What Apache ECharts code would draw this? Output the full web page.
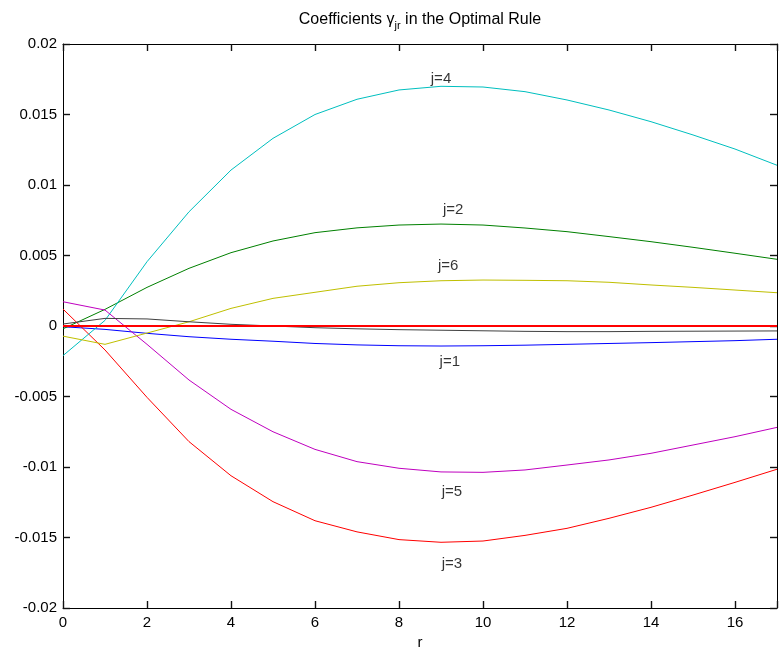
<!DOCTYPE html>
<html>
<head>
<meta charset="utf-8">
<script src="https://cdn.jsdelivr.net/npm/echarts@6/dist/echarts.min.js"></script>
<style>
html,body{margin:0;padding:0;background:#fff;}
#c{width:779px;height:650px;}
</style>
</head>
<body>
<div id="c"></div>
<script>
const r = [0,1,2,3,4,5,6,7,8,9,10,11,12,13,14,15,16,17];
const j1 = [-0.00005,-0.00024,-0.00052,-0.00076,-0.00094,-0.00108,-0.00124,-0.00134,-0.0014,-0.00142,-0.0014,-0.00136,-0.0013,-0.00124,-0.00118,-0.00111,-0.00104,-0.00094];
const j2 = [-0.0002,0.00118,0.00274,0.00409,0.0052,0.00603,0.00662,0.00696,0.00716,0.00723,0.00716,0.00695,0.00669,0.00634,0.00598,0.00558,0.00516,0.00473];
const j3 = [0.0012,-0.0017,-0.00506,-0.0082,-0.01062,-0.01246,-0.01381,-0.01460,-0.01515,-0.01534,-0.01525,-0.01485,-0.01435,-0.01364,-0.01286,-0.01199,-0.01109,-0.01016];
const j4 = [-0.0021,0.0004,0.00456,0.0081,0.01106,0.01331,0.01500,0.01608,0.01674,0.0170,0.01695,0.01662,0.01603,0.01532,0.01449,0.01355,0.01255,0.0114];
const j5 = [0.00172,0.00113,-0.0013,-0.00383,-0.00591,-0.0075,-0.00875,-0.00962,-0.01009,-0.01035,-0.01038,-0.01021,-0.00986,-0.0095,-0.00903,-0.00844,-0.00785,-0.00719];
const j6 = [-0.00072,-0.0013,-0.0005,0.0003,0.00125,0.00196,0.00239,0.00282,0.00307,0.00321,0.00326,0.00324,0.00321,0.0031,0.00291,0.00274,0.00255,0.00236];
const j7 = [0.00014,0.00054,0.0005,0.0003,0.00012,0.0,-0.00012,-0.0002,-0.00026,-0.0003,-0.00034,-0.00038,-0.0004,-0.0004,-0.00038,-0.00037,-0.00036,-0.00035];
const zeroLine = [0,0,0,0,0,0,0,0,0,0,0,0,0,0,0,0,0,0];
const labelText = ['j=4','j=2','j=6','j=1','j=5','j=3'];
const labelR = [9.0,9.29,9.17,9.21,9.26,9.26];
const labelV = [0.01752,0.00823,0.00426,-0.00255,-0.01177,-0.01688];
const xTicks = [0,2,4,6,8,10,12,14,16];

const FONT = 'Liberation Sans, Arial, sans-serif';
const FS = 15;
function pairs(vals){ return r.map((x,i)=>[x, vals[i]]); }
function lineSeries(vals, color, width){
  return {type:'line', data:pairs(vals), symbol:'none', showSymbol:false,
    lineStyle:{color:color, width:width||1}, itemStyle:{color:color}, animation:false, z:2};
}
const chart = echarts.init(document.getElementById('c'), null, {renderer:'canvas'});
const axLine = {show:true, onZero:false, lineStyle:{color:'#000', width:1}};
const xTick = {show:true, inside:true, length:7, lineStyle:{color:'#111111', width:1.4}};
const yTick = {show:true, inside:true, length:7, lineStyle:{color:'#111111', width:1.4}};
chart.setOption({
  backgroundColor:'#fff',
  animation:false,
  title:{
    text:'{n|Coefficients γ}{s|jr}{n| in the Optimal Rule}',
    left:415, top:6, textAlign:'center',
    textStyle:{fontWeight:'normal', rich:{
      n:{fontFamily:FONT, fontSize:16, fontWeight:'normal', color:'#000', lineHeight:18},
      s:{fontFamily:FONT, fontSize:11, fontWeight:'normal', color:'#000', padding:[11,0,0,0], lineHeight:18}
    }}
  },
  grid:{left:63, right:2, top:44, bottom:42, containLabel:false, outerBoundsMode:'none'},
  xAxis:[
    {type:'value', position:'bottom', min:0, max:17, interval:2,
      name:'r', nameLocation:'middle', nameGap:25,
      nameTextStyle:{fontFamily:FONT, fontSize:FS, color:'#000'},
      axisLine:axLine, axisTick:xTick, splitLine:{show:false},
      axisLabel:{fontFamily:FONT, fontSize:FS, color:'#000', margin:7,
        customValues:xTicks, formatter:v=>String(v)}},
    {type:'value', position:'top', min:0, max:17, interval:2,
      axisLine:axLine, axisTick:xTick, splitLine:{show:false},
      axisLabel:{show:false}}
  ],
  yAxis:[
    {type:'value', position:'left', min:-0.02, max:0.02, interval:0.005,
      axisLine:axLine, axisTick:yTick, splitLine:{show:false},
      axisLabel:{fontFamily:FONT, fontSize:FS, color:'#000', margin:6,
        formatter:v=>{ if (Math.abs(v)<1e-12) return '0'; return String(parseFloat(v.toFixed(4))); }}},
    {type:'value', position:'right', min:-0.02, max:0.02, interval:0.005,
      axisLine:axLine, axisTick:yTick, splitLine:{show:false},
      axisLabel:{show:false}}
  ],
  series:[
    lineSeries(j1,'#0000ff'),
    lineSeries(j2,'#008000'),
    lineSeries(j3,'#ff0000'),
    lineSeries(j4,'#00bfbf'),
    lineSeries(j5,'#bf00bf'),
    lineSeries(j6,'#bfbf00'),
    lineSeries(j7,'#404040'),
    lineSeries(zeroLine,'#ff0000',2),
    {type:'scatter', symbolSize:0, animation:false, silent:true,
     data:labelR.map((x,i)=>({value:[x,labelV[i]], name:labelText[i]})),
     label:{show:true, position:'inside', formatter:p=>p.name,
       fontFamily:FONT, fontSize:FS, color:'#000'}, z:5}
  ]
});
</script>
</body>
</html>
